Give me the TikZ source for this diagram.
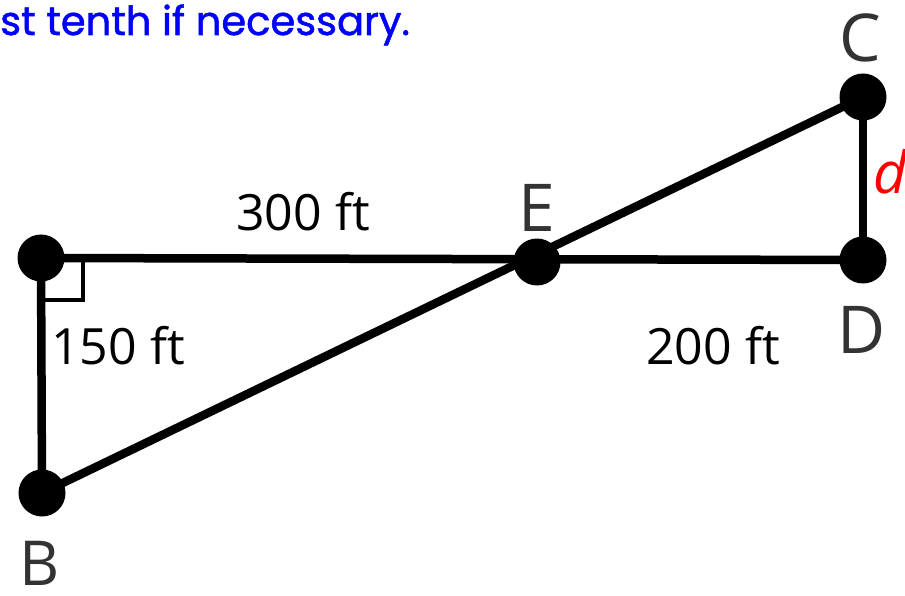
\documentclass[tikz,border=0pt]{standalone}
\usepackage{fontspec}
\setmainfont{Open Sans}
\newfontfamily\titlefont[FakeBold=1.3]{Poppins}
\begin{document}
\begin{tikzpicture}[x=1pt,y=-1pt,
  seg/.style={line width=8.5pt,black},
  dot/.style={circle,fill=black,minimum size=47pt,inner sep=0pt},
  ptlabel/.style={text=black!80,font=\fontsize{66}{66}\selectfont,inner sep=0pt},
  dimlabel/.style={text=black,font=\fontsize{50}{50}\selectfont,inner sep=0pt},
]
\useasboundingbox (0,0) rectangle (905,596);
\coordinate (A) at (41,258);
\coordinate (E) at (537,262);
\coordinate (D) at (863,260);
\coordinate (C) at (863,97);
\coordinate (B) at (42,493);
\draw[seg] (A) -- (D);
\draw[seg] (A) -- (B);
\draw[seg] (B) -- (C);
\draw[seg] (C) -- (D);
\draw[line width=4.5pt] (A) ++(2,0) |- ++(40,42) |- ++(0,-42);
\node[dot] (nA) at (A) {};
\node[dot] (nE) at (E) {};
\node[dot] (nD) at (D) {};
\node[dot] (nC) at (C) {};
\node[dot] (nB) at (B) {};
\node[ptlabel] (lC) at (860,38) {C};
\node[ptlabel] (lD) at (862,330) {D};
\node[ptlabel] (lE) at (537,208) {E};
\node[ptlabel,font=\fontsize{62}{62}\selectfont] (lB) at (40,563) {B};
\node[dimlabel] (l300) at (303,212) {300 ft};
\node[dimlabel] (l150) at (118,346) {150 ft};
\node[dimlabel] (l200) at (713,346) {200 ft};
\node[text=red,font=\itshape\fontsize{58}{58}\selectfont,inner sep=0pt] (ld) at (890,172) {d};
\node[text=blue,font=\titlefont\fontsize{40}{40}\selectfont,anchor=base west,inner sep=0pt] (title) at (0,35) {st tenth if necessary.};
\end{tikzpicture}
\end{document}
